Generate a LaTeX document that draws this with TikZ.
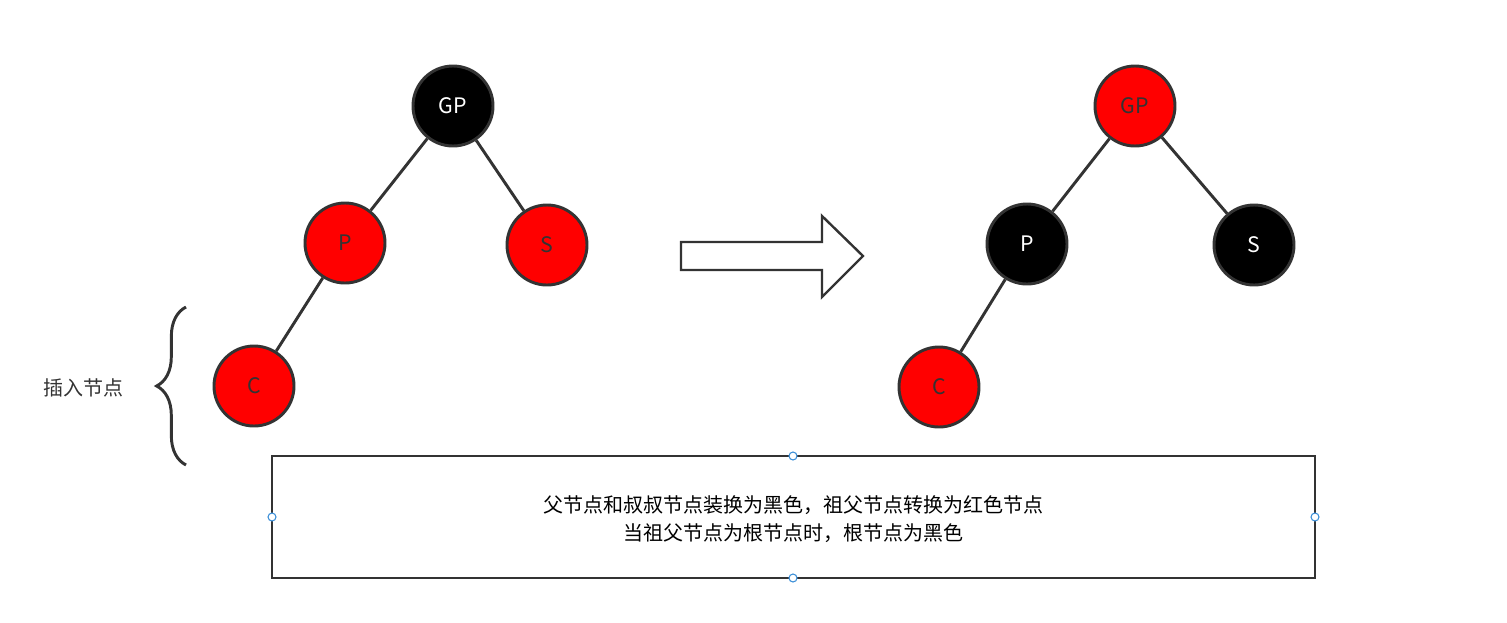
\documentclass[tikz,border=0pt]{standalone}
\usepackage{fontspec}
\setmainfont{Noto Sans CJK SC}
\usetikzlibrary{decorations.pathreplacing,shapes.arrows}
\definecolor{edge}{HTML}{333333}
\definecolor{handle}{HTML}{3C8FD8}
\tikzset{
  rbnode/.style={circle, draw=edge, line width=2.2pt, minimum size=60pt, inner sep=0pt, font=\fontsize{16}{18}\selectfont},
  red node/.style={rbnode, fill=red, text=edge},
  black node/.style={rbnode, fill=black, text=white},
  link/.style={draw=edge, line width=2.2pt},
}
\begin{document}
\begin{tikzpicture}[x=0.75pt, y=-0.75pt]
    \useasboundingbox (0,0) rectangle (1507,622);

    % before
    \node[black node] (gp1) at (453,106) {GP};
    \node[red node] (p1) at (345,243) {P};
    \node[red node] (s1) at (547,245) {S};
    \node[red node] (c1) at (254,386) {C};
    \draw[link] (gp1) -- (p1);
    \draw[link] (gp1) -- (s1);
    \draw[link] (p1) -- (c1);

    % brace
    \draw[link, decorate, decoration={brace, amplitude=22pt}] (186,465) -- (186,307);
    \node[font=\fontsize{15}{18}\selectfont, text=edge] (ins) at (83,388) {插入节点};

    % arrow
    \draw[edge, line width=1.8pt, fill=white]
        (681,242) -- (822,242) -- (822,216) -- (863,256) -- (822,297) -- (822,270) -- (681,270) -- cycle;

    % after
    \node[red node] (gp2) at (1135,106) {GP};
    \node[black node] (p2) at (1027,244) {P};
    \node[black node] (s2) at (1254,245) {S};
    \node[red node] (c2) at (939,387) {C};
    \draw[link] (gp2) -- (p2);
    \draw[link] (gp2) -- (s2);
    \draw[link] (p2) -- (c2);

    % note box
    \draw[edge, line width=2.2pt] (272,456) rectangle (1315,578);
    \node[align=center, font=\fontsize{15}{21}\selectfont, text=black] (note) at (793,519)
        {父节点和叔叔节点装换为黑色，祖父节点转换为红色节点\\当祖父节点为根节点时，根节点为黑色};
    \foreach \hx/\hy in {793/456, 793/578, 272/517, 1315/517}
        \draw[handle, fill=white, line width=0.8pt] (\hx,\hy) circle (4);
\end{tikzpicture}
\end{document}
